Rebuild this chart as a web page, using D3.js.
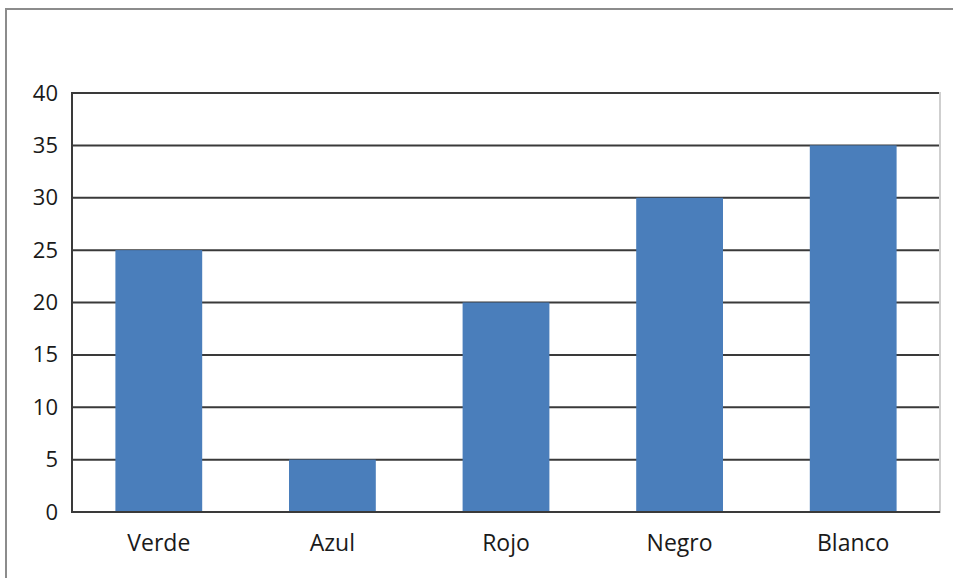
<!DOCTYPE html>
<html>
<head>
<meta charset="utf-8">
<script src="https://cdn.jsdelivr.net/npm/d3@7"></script>
<style>
  html, body { margin: 0; padding: 0; background: #fff; }
  svg { display: block; }
  text { font-family: "Open Sans", sans-serif; fill: #1a1a1a; }
</style>
</head>
<body>
<svg id="chart" width="953" height="578"></svg>
<script>
// Chart data
const categories = ["Verde", "Azul", "Rojo", "Negro", "Blanco"];
const values = [25, 5, 20, 30, 35];
const yTicks = [0, 5, 10, 15, 20, 25, 30, 35, 40];

const W = 953, H = 578;
const plot = { left: 72, right: 940, top: 93, bottom: 512 };

const svg = d3.select("#chart");

// Outer frame (top and left edges)
svg.append("path")
  .attr("d", `M6,${H} L6,9 L${W},9`)
  .attr("fill", "none")
  .attr("stroke", "#8c8c8c")
  .attr("stroke-width", 2);

const x = d3.scaleBand()
  .domain(categories)
  .range([plot.left, plot.right])
  .paddingInner(0.5)
  .paddingOuter(0.25);

const y = d3.scaleLinear()
  .domain([0, 40])
  .range([plot.bottom, plot.top]);

// Horizontal gridlines
svg.append("g")
  .selectAll("line")
  .data(yTicks)
  .join("line")
  .attr("x1", plot.left)
  .attr("x2", plot.right)
  .attr("y1", d => y(d))
  .attr("y2", d => y(d))
  .attr("stroke", "#3a3a3a")
  .attr("stroke-width", 2);

// Right edge of the plot area
svg.append("line")
  .attr("x1", plot.right)
  .attr("x2", plot.right)
  .attr("y1", plot.top - 1)
  .attr("y2", plot.bottom + 1)
  .attr("stroke", "#cfcfcf")
  .attr("stroke-width", 2);

// Bars
svg.append("g")
  .selectAll("rect")
  .data(values)
  .join("rect")
  .attr("x", (d, i) => x(categories[i]))
  .attr("width", x.bandwidth())
  .attr("y", d => y(d))
  .attr("height", d => y(0) - y(d))
  .attr("fill", "#4a7ebb");

// Axis lines
svg.append("line")
  .attr("x1", plot.left).attr("x2", plot.right)
  .attr("y1", plot.bottom).attr("y2", plot.bottom)
  .attr("stroke", "#3a3a3a").attr("stroke-width", 2);
svg.append("line")
  .attr("x1", plot.left).attr("x2", plot.left)
  .attr("y1", plot.top - 1).attr("y2", plot.bottom + 1)
  .attr("stroke", "#3a3a3a").attr("stroke-width", 2);

// Y axis labels
const yAxis = d3.axisLeft(y).tickValues(yTicks).tickSize(0).tickPadding(14);
const gy = svg.append("g")
  .attr("transform", `translate(${plot.left},0)`)
  .call(yAxis);
gy.select(".domain").remove();
gy.selectAll("text")
  .attr("font-family", "Open Sans, sans-serif")
  .attr("font-size", 22)
  .attr("fill", "#1a1a1a");

// X axis labels
const xAxis = d3.axisBottom(x).tickSize(0).tickPadding(23);
const gx = svg.append("g")
  .attr("transform", `translate(0,${plot.bottom})`)
  .call(xAxis);
gx.select(".domain").remove();
gx.selectAll("text")
  .attr("font-family", "Open Sans, sans-serif")
  .attr("font-size", 23)
  .attr("fill", "#1a1a1a");
</script>
</body>
</html>
